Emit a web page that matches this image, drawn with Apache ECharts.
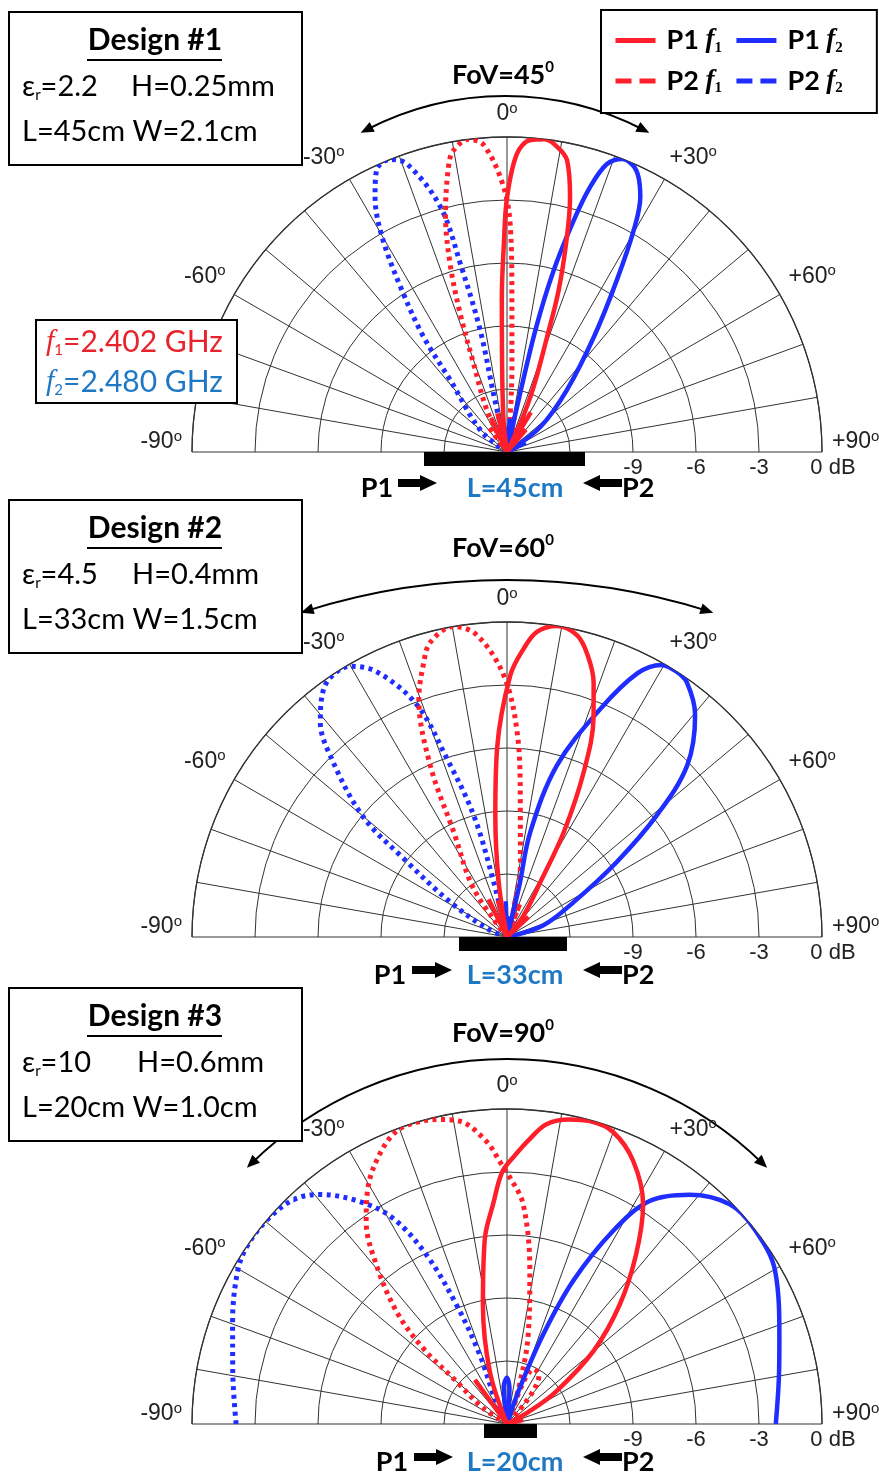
<!DOCTYPE html>
<html>
<head>
<meta charset="utf-8">
<script src="https://cdn.jsdelivr.net/npm/echarts@6/dist/echarts.min.js"></script>
<style>
  html, body { margin: 0; padding: 0; background: #fff; }
  #chart { width: 879px; height: 1477px; }
</style>
</head>
<body>
<div id="chart"></div>
<script>
// ---- [angle (deg), gain (dB)] ----
// design #1, L=45cm
const p1f1_45 = [[-30,-15],[-25,-13.2],[-20,-15],[-14,-13.1],[-10,-15],[-6.5,-13.6],[-3.2,-10.8],[-1.9,-7.6],[-0.9,-5.2],[0,-2.9],[1.9,-0.8],[4.3,-0.1],[6.9,0],[9.5,-0.3],[11.6,-0.8],[13.9,-2.5],[15.6,-4.4],[17.7,-6.9],[19.2,-9.2],[22.3,-11.7],[25,-13.5],[27,-15],[31,-12.8],[35,-15],[40,-13.6],[45,-15]]
const p1f2_45 = [[-12,-15],[-6,-13.8],[0,-15],[5,-13.4],[9,-15],[12.5,-13],[13.1,-9.1],[14.4,-6.1],[16.1,-3.5],[17.4,-1.8],[19.1,-0.5],[21.5,0],[23.8,-0.1],[25.6,-0.5],[27.6,-1.3],[29.7,-2.8],[32.6,-5.3],[37,-8.1],[44,-10.9],[53,-13],[58,-15],[63,-14],[68,-15]]
const p2f1_45 = [[-42,-15],[-36,-13.5],[-31,-15],[-25.6,-12.8],[-20.7,-10.5],[-18.7,-8.05],[-16.8,-5.6],[-14.5,-3.3],[-11.4,-1.0],[-10,-0.4],[-7,0],[-4.3,-0.35],[-0.7,-2.4],[0.9,-4.4],[1.8,-7.6],[3.2,-10.8],[5,-13.2],[8,-15],[12,-13.3],[16,-15],[22,-13.8],[27,-15]]
const p2f2_45 = [[-62,-15],[-50.9,-13.4],[-38.3,-10.65],[-35.9,-8.2],[-33,-5.8],[-30.2,-3.2],[-27.3,-1.3],[-24.8,-0.2],[-21.8,0],[-19.1,-0.5],[-15.2,-2.9],[-13.9,-5.8],[-12.4,-9.1],[-13.2,-12.4],[-12,-15],[-7,-13.8],[-3,-15]]
// design #2, L=33cm
const p1f1_33 = [[-32,-15],[-26,-13],[-20,-15],[-14,-13.2],[-11,-15],[-8.6,-12.35],[-5.5,-9.2],[-3,-6],[0.7,-2.55],[3.3,-1.25],[5.6,-0.4],[9.1,0],[13.1,-0.25],[16,-1.05],[18.8,-2.2],[21.4,-3.7],[24.9,-6.3],[28.4,-9.3],[31.2,-11.9],[37.6,-13.7],[42,-15],[47,-13.6],[52,-15]]
const p1f2_33 = [[-8,-15],[-2,-13.3],[3,-15],[8,-14],[15,-15],[13.5,-12.5],[12.5,-9.9],[16.2,-6.5],[22.2,-3.3],[26.3,-1.0],[29.6,-0.1],[32.5,0],[35.2,-0.15],[40.3,-1.15],[46.4,-3.15],[50.9,-5.8],[55.7,-8.7],[62.3,-11.4],[72.3,-13.2],[78,-15]]
const p2f1_33 = [[-44,-15],[-34.6,-12.2],[-26.9,-9.4],[-24.1,-6.05],[-20.3,-2.9],[-17,-1.4],[-14.6,-0.5],[-9.8,0],[-5.7,-0.55],[-0.7,-2.55],[2.8,-5.2],[5.5,-8.4],[10.5,-11.5],[13.3,-13.6],[17,-15],[21,-13.3],[25,-15]]
const p2f2_33 = [[-72,-15],[-67.5,-14],[-58.3,-11.8],[-52.8,-8.8],[-50,-6],[-44.2,-2.9],[-41,-1.45],[-36.4,-0.3],[-33,0],[-30.1,-0.1],[-26.1,-0.95],[-21.2,-3.15],[-18.6,-6.05],[-15.3,-9],[-13.6,-12.3],[-12,-15],[-6,-13.8],[0,-15]]
// design #3, L=20cm
const p1f1_20 = [[-44,-15],[-36,-12.4],[-29,-15],[-23,-15],[-18.2,-12.4],[-11.4,-9.2],[-6.8,-6.1],[-3.6,-4.5],[-1.1,-3.0],[1.5,-2.25],[4.5,-1.4],[7.5,-0.6],[11.6,-0.2],[15.3,-0.05],[19.9,-0.2],[25.6,-1.1],[31.8,-2.7],[37.4,-4.9],[43.4,-7.2],[49.8,-9.6],[56.5,-12.2],[60.8,-13.8],[65,-15],[76,-14.2],[86,-15]]
const p1f2_20 = [[-10,-15],[-5,-13.2],[0,-12.8],[4,-13.3],[8,-15],[16,-15],[19.4,-13.2],[22,-10.4],[24.8,-7.5],[28.8,-4.5],[32.6,-2.4],[38.5,-1.05],[45.4,-0.1],[51.8,0],[60.3,-0.3],[72.5,-1.4],[80,-1.85],[90,-2.2]]
const p2f1_20 = [[-64,-15],[-56.3,-13.6],[-49.9,-11.85],[-47.9,-9.6],[-44.5,-7.5],[-39.4,-5.2],[-34.8,-3.25],[-30.5,-1.95],[-25.3,-0.8],[-20.7,-0.1],[-16.8,0],[-12.5,-0.15],[-8.9,-0.4],[-4.2,-1.5],[-1.3,-2.6],[0.5,-3.2],[4.2,-4.5],[8.5,-7.65],[13.7,-10.8],[18,-13.2],[22,-14.5],[26,-12.1],[33,-12.2],[38,-15]]
const p2f2_20 = [[-90,-2.1],[-79.1,-1.7],[-69.5,-1.05],[-60.4,-0.25],[-55.5,0],[-49.7,0],[-43.6,-0.25],[-39.2,-0.9],[-33.5,-2.3],[-29,-3.8],[-25.5,-6.05],[-23,-8.8],[-21.5,-11.45],[-27,-13.9],[-22,-15]]

const seriesNames = ['P1 f1', 'P1 f2', 'P2 f1', 'P2 f2']
const angleTicks = [-90, -60, -30, 0, 30, 60, 90]
const dbTicks = [-9, -6, -3, 0]
const designNames = ['Design #1', 'Design #2', 'Design #3']
const epsR = ['2.2', '4.5', '10']
const heights = ['H=0.25mm', 'H=0.4mm', 'H=0.6mm']
const sizes = ['L=45cm W=2.1cm', 'L=33cm W=1.5cm', 'L=20cm W=1.0cm']
const lengths = ['L=45cm', 'L=33cm', 'L=20cm']
const fovs = [45, 60, 90]
const freqs = ['2.402 GHz', '2.480 GHz']

const lobes = [
  [p1f1_45, p1f2_45, p2f1_45, p2f2_45],
  [p1f1_33, p1f2_33, p2f1_33, p2f2_33],
  [p1f1_20, p1f2_20, p2f1_20, p2f2_20]
]

// ---- layout ----
const centers = [[507, 452], [507, 937], [507, 1424]]
const R = 315
const RED = '#ff1f2a', BLUE = '#1f2dff', TXTRED = '#e8232c', TXTBLUE = '#1f78c4'
const boxTops = [12, 500, 988]
const hX = [131, 132, 137]
const barX = [[424, 585], [459, 567], [484, 537]]
const bottomY = [488, 975, 1462]
const p1X = [377, 390, 392]
const rArrow = [[398, 437], [412, 452], [414, 453]]
const fovY = [75, 548, 1033]
const fovArcs = [[505, 397, 301, 27.5], [507, 1247, 667, 17.5], [507, 1424, 365, 44.5]]

const chart = echarts.init(document.getElementById('chart'))

const tok = (size, color, extra) => Object.assign({ fontSize: size, fontFamily: 'Lato', fill: color, color: color }, extra || {})

const angleFmt = v => {
  if (!angleTicks.includes(v)) return ''
  const s = (v > 0 ? '+' : '') + v
  return Math.abs(v) === 90 ? `{n|${s}}{o|o}\n{g|}` : `{n|${s}}{o|o}`
}
const angleRich = {
  n: { fontSize: 23, fontFamily: 'Liberation Sans', color: '#222', lineHeight: 26 },
  o: { fontSize: 15, fontFamily: 'Liberation Sans', color: '#222', lineHeight: 15, verticalAlign: 'top' },
  g: { lineHeight: 20, fontSize: 10 }
}

function lobe(name, pts, polarIndex, color, dotted) {
  return {
    name, type: 'line', coordinateSystem: 'polar', polarIndex,
    data: pts.map(p => [p[1], p[0]]),
    symbol: 'none', smooth: 0.35,
    lineStyle: { color, width: dotted ? 5 : 4.5, type: dotted ? [4, 4.5] : 'solid', cap: 'butt' },
    itemStyle: { color },
    z: dotted ? 3 : 4
  }
}

const series = []
lobes.forEach((set, i) => {
  // draw dotted first, red solid last
  series.push(lobe(seriesNames[3], set[3], i, BLUE, true))
  series.push(lobe(seriesNames[2], set[2], i, RED, true))
  series.push(lobe(seriesNames[1], set[1], i, BLUE, false))
  series.push(lobe(seriesNames[0], set[0], i, RED, false))
})

function blockArrow(x0, x1, y, dir) {
  const head = 17, hh = 8, sh = 4
  const pts = dir > 0
    ? [[x0, y - sh], [x1 - head, y - sh], [x1 - head, y - hh], [x1, y], [x1 - head, y + hh], [x1 - head, y + sh], [x0, y + sh]]
    : [[x1, y - sh], [x0 + head, y - sh], [x0 + head, y - hh], [x0, y], [x0 + head, y + hh], [x0 + head, y + sh], [x1, y + sh]]
  return { type: 'polygon', shape: { points: pts }, style: { fill: '#000' } }
}

function fovArc(cx, cy, r, aDeg) {
  const a = aDeg * Math.PI / 180
  const els = [{
    type: 'arc',
    shape: { cx, cy, r, startAngle: -Math.PI / 2 - a, endAngle: -Math.PI / 2 + a, clockwise: true },
    style: { stroke: '#000', lineWidth: 2, fill: 'none' }
  }]
  ;[-1, 1].forEach(sgn => {
    const ex = cx + sgn * r * Math.sin(a), ey = cy - r * Math.cos(a)
    const dx = sgn * Math.cos(a), dy = Math.sin(a)
    const nx = -dy, ny = dx
    els.push({
      type: 'polygon',
      shape: { points: [[ex + dx * 6, ey + dy * 6], [ex - dx * 7 + nx * 5.5, ey - dy * 7 + ny * 5.5], [ex - dx * 7 - nx * 5.5, ey - dy * 7 - ny * 5.5]] },
      style: { fill: '#000' }
    })
  })
  return els
}

function text(x, y, str, rich, align) {
  return { type: 'text', x, y, z: 10, style: { text: str, rich, textAlign: align || 'left', textVerticalAlign: 'middle', align: align || 'left', verticalAlign: 'middle' } }
}

const graphic = []
centers.forEach((c, i) => {
  // FoV arc + label
  graphic.push(...fovArc(...fovArcs[i]))
  graphic.push(text(c[0] - 4, fovY[i], `{b|FoV=${fovs[i]}}{s|0}`, {
    b: tok(27, '#000', { fontWeight: 'bold', lineHeight: 30 }),
    s: tok(15, '#000', { fontWeight: 'bold', lineHeight: 15, verticalAlign: 'top' })
  }, 'center'))
  // design box
  const t = boxTops[i]
  graphic.push({ type: 'rect', z: 9, shape: { x: 9, y: t, width: 293, height: 153 }, style: { fill: '#fff', stroke: '#000', lineWidth: 2 } })
  graphic.push(text(155, t + 28, `{b|${designNames[i]}}`, { b: tok(30, '#000', { fontWeight: 'bold' }) }, 'center'))
  graphic.push({ type: 'line', z: 10, shape: { x1: 87, y1: t + 48, x2: 222, y2: t + 48 }, style: { stroke: '#000', lineWidth: 2 } })
  graphic.push(text(22, t + 75, `{a|ε}{r|r}{a|=${epsR[i]}}`, {
    a: tok(29, '#000', { lineHeight: 32 }), r: tok(15, '#000', { lineHeight: 17, verticalAlign: 'bottom' })
  }))
  graphic.push(text(hX[i], t + 75, `{a|${heights[i]}}`, { a: tok(29, '#000') }))
  graphic.push(text(22, t + 120, `{a|${sizes[i]}}`, { a: tok(29, '#000') }))
  // antenna bar and port labels
  graphic.push({ type: 'rect', z: 10, shape: { x: barX[i][0], y: c[1], width: barX[i][1] - barX[i][0], height: 14 }, style: { fill: '#000' } })
  const by = bottomY[i]
  graphic.push(text(p1X[i], by, '{b|P1}', { b: tok(27, '#000', { fontWeight: 'bold' }) }, 'center'))
  graphic.push(blockArrow(rArrow[i][0], rArrow[i][1], by - 5, 1))
  graphic.push(text(515, by, `{b|${lengths[i]}}`, { b: tok(27, TXTBLUE, { fontWeight: 'bold' }) }, 'center'))
  graphic.push(blockArrow(583, 622, by - 5, -1))
  graphic.push(text(622, by, '{b|P2}', { b: tok(27, '#000', { fontWeight: 'bold' }) }))
})

// frequency box
graphic.push({ type: 'rect', z: 9, shape: { x: 36, y: 320, width: 201, height: 83 }, style: { fill: '#fff', stroke: '#000', lineWidth: 2 } })
;[TXTRED, TXTBLUE].forEach((col, k) => {
  graphic.push(text(46, 342 + k * 40, `{f|f}{s|${k + 1}}{a|=${freqs[k]}}`, {
    f: tok(30, col, { fontFamily: 'Liberation Serif', fontStyle: 'italic', lineHeight: 32 }),
    s: tok(15, col, { lineHeight: 17, verticalAlign: 'bottom' }),
    a: tok(30, col, { lineHeight: 32 })
  }))
})

const option = {
  animation: false,
  backgroundColor: '#fff',
  polar: centers.map(c => ({ center: c, radius: R })),
  angleAxis: centers.map((c, i) => ({
    polarIndex: i, type: 'value', min: -90, max: 90, interval: 10,
    startAngle: 180, endAngle: 0, clockwise: true,
    axisLine: { lineStyle: { color: '#333', width: 1.3 } },
    axisTick: { show: false },
    splitLine: { lineStyle: { color: '#333', width: 1 } },
    axisLabel: { margin: 10, formatter: angleFmt, rich: angleRich, color: '#222' }
  })),
  radiusAxis: centers.map((c, i) => ({
    polarIndex: i, type: 'value', min: -15, max: 0, interval: 3,
    axisLine: { show: false }, axisTick: { show: false }, axisLabel: { show: false },
    splitLine: { lineStyle: { color: '#333', width: 1 } }
  })),
  // dB scale along the right half of each baseline
  grid: centers.map(c => ({ left: c[0], width: R, top: c[1] - 10, height: 10 })),
  xAxis: centers.map((c, i) => ({
    gridIndex: i, type: 'value', min: -15, max: 0, interval: 3,
    axisLine: { show: false }, axisTick: { show: false }, splitLine: { show: false },
    axisLabel: {
      margin: 5, color: '#222', fontSize: 22, fontFamily: 'Liberation Sans',
      showMinLabel: true, showMaxLabel: true,
      formatter: v => dbTicks.includes(v) ? (v === 0 ? '{z|0 dB}' : String(v)) : '',
      rich: { z: { fontSize: 22, fontFamily: 'Liberation Sans', color: '#222', padding: [0, 0, 0, 22] } }
    }
  })),
  yAxis: centers.map((c, i) => ({ gridIndex: i, type: 'value', show: false })),
  legend: {
    data: [
      { name: 'P1 f1' }, { name: 'P1 f2' },
      { name: 'P2 f1', lineStyle: { type: [16, 8] } },
      { name: 'P2 f2', lineStyle: { type: [16, 8] } }
    ],
    left: 601, top: 10, width: 262, padding: [17, 34, 17, 12],
    itemWidth: 40, itemHeight: 14, itemGap: 12, selectedMode: false,
    borderColor: '#000', borderWidth: 2, backgroundColor: '#fff',
    itemStyle: { color: 'rgba(0,0,0,0)', borderWidth: 0, borderColor: 'rgba(0,0,0,0)' },
    lineStyle: { width: 5, cap: 'butt' },
    formatter: n => `{b|${n.slice(0, 3)}}{f|f}{s|${n.slice(-1)}}`,
    textStyle: {
      rich: {
        b: { fontFamily: 'Lato', fontWeight: 'bold', fontSize: 27, color: '#000', lineHeight: 30, padding: [0, 0, 0, 6] },
        f: { fontFamily: 'Liberation Serif', fontStyle: 'italic', fontWeight: 'bold', fontSize: 27, color: '#000', lineHeight: 30 },
        s: { fontFamily: 'Liberation Serif', fontWeight: 'bold', fontSize: 15, color: '#000', lineHeight: 16, verticalAlign: 'bottom' }
      }
    }
  },
  graphic,
  series
}
chart.setOption(option)
</script>
</body>
</html>
